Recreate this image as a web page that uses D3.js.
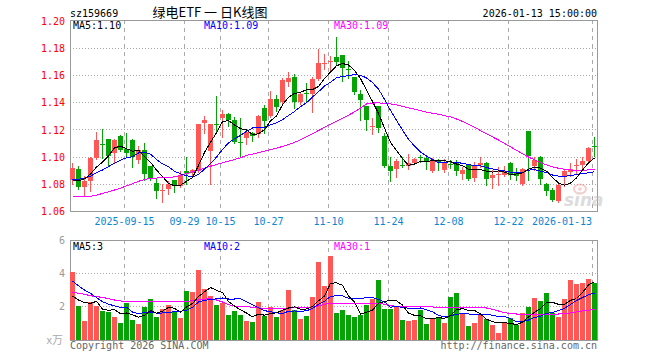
<!DOCTYPE html>
<html>
<head>
<meta charset="utf-8">
<script src="https://cdn.jsdelivr.net/npm/d3@7"></script>
<style>
  body { margin: 0; background: #fff; }
  svg text { font-family: "DejaVu Sans Mono", monospace; font-size: 10px; }
</style>
</head>
<body>
<div id="chart"></div>
<script>
// Trading days shown (2025-09-02 .. 2026-01-13)
const dates = [
  "2025-09-02","2025-09-03","2025-09-04","2025-09-05","2025-09-08","2025-09-09","2025-09-10","2025-09-11","2025-09-12","2025-09-15",
  "2025-09-16","2025-09-17","2025-09-18","2025-09-19","2025-09-22","2025-09-23","2025-09-24","2025-09-25","2025-09-26","2025-09-29",
  "2025-09-30","2025-10-09","2025-10-10","2025-10-13","2025-10-14","2025-10-15","2025-10-16","2025-10-17","2025-10-20","2025-10-21",
  "2025-10-22","2025-10-23","2025-10-24","2025-10-27","2025-10-28","2025-10-29","2025-10-30","2025-10-31","2025-11-03","2025-11-04",
  "2025-11-05","2025-11-06","2025-11-07","2025-11-10","2025-11-11","2025-11-12","2025-11-13","2025-11-14","2025-11-17","2025-11-18",
  "2025-11-19","2025-11-20","2025-11-21","2025-11-24","2025-11-25","2025-11-26","2025-11-27","2025-11-28","2025-12-01","2025-12-02",
  "2025-12-03","2025-12-04","2025-12-05","2025-12-08","2025-12-09","2025-12-10","2025-12-11","2025-12-12","2025-12-15","2025-12-16",
  "2025-12-17","2025-12-18","2025-12-19","2025-12-22","2025-12-23","2025-12-24","2025-12-25","2025-12-26","2025-12-29","2025-12-30",
  "2025-12-31","2026-01-05","2026-01-06","2026-01-07","2026-01-08","2026-01-09","2026-01-12","2026-01-13"
];

const opens = [
  1.0830,1.0913,1.0777,1.0826,1.0995,1.1097,1.1132,1.1028,1.1157,1.1060,
  1.1125,1.0975,1.1052,1.0935,1.0806,1.0756,1.0766,1.0833,1.0785,1.0895,
  1.0882,1.0901,1.1247,1.1047,1.1240,1.1288,1.1320,1.1270,1.1110,1.1137,
  1.1174,1.1169,1.1363,1.1300,1.1424,1.1405,1.1555,1.1592,1.1405,1.1468,
  1.1465,1.1575,1.1688,1.1700,1.1733,1.1750,1.1650,1.1587,1.1460,1.1375,
  1.1225,1.1373,1.1154,1.0938,1.0914,1.0945,1.0938,1.0955,1.0998,1.0996,
  1.0894,1.0970,1.0906,1.0952,1.0967,1.0877,1.0943,1.0845,1.0943,1.0960,
  1.0845,1.0874,1.0870,1.0960,1.0887,1.0802,1.1193,1.0938,1.1003,1.0804,
  1.0760,1.0675,1.0858,1.0889,1.0940,1.0943,1.0972,1.1080
];
const highs = [
  1.0955,1.0935,1.0858,1.1002,1.1185,1.1204,1.1135,1.1130,1.1165,1.1180,
  1.1130,1.1083,1.1100,1.0937,1.0838,1.0804,1.0821,1.0835,1.0901,1.1003,
  1.0915,1.1240,1.1300,1.1245,1.1446,1.1344,1.1325,1.1295,1.1288,1.1198,
  1.1186,1.1307,1.1380,1.1485,1.1453,1.1582,1.1623,1.1610,1.1470,1.1543,
  1.1587,1.1794,1.1757,1.1745,1.1879,1.1752,1.1704,1.1590,1.1494,1.1378,
  1.1288,1.1375,1.1178,1.1003,1.0984,1.1003,1.1021,1.0991,1.1015,1.0998,
  1.0996,1.0984,1.0984,1.0979,1.0979,1.0930,1.0950,1.0962,1.1003,1.0962,
  1.0906,1.0930,1.0938,1.0962,1.0918,1.0918,1.1195,1.1003,1.1005,1.0809,
  1.0773,1.0802,1.0906,1.0960,1.0984,1.1003,1.1072,1.1150
];
const lows = [
  1.0800,1.0765,1.0722,1.0753,1.0983,1.0995,1.0940,1.0962,1.1045,1.1000,
  1.0930,1.0960,1.0833,1.0828,1.0697,1.0668,1.0729,1.0741,1.0780,1.0804,
  1.0870,1.0890,1.1174,1.0800,1.1180,1.1150,1.1230,1.1100,1.1008,1.1096,
  1.1120,1.1150,1.1178,1.1295,1.1340,1.1397,1.1520,1.1363,1.1390,1.1410,
  1.1332,1.1567,1.1648,1.1640,1.1684,1.1558,1.1580,1.1465,1.1276,1.1198,
  1.1169,1.1186,1.0930,1.0821,1.0853,1.0928,1.0914,1.0950,1.0967,1.0914,
  1.0887,1.0906,1.0887,1.0918,1.0870,1.0841,1.0833,1.0821,1.0930,1.0792,
  1.0773,1.0797,1.0863,1.0838,1.0833,1.0797,1.0828,1.0906,1.0804,1.0724,
  1.0675,1.0668,1.0785,1.0858,1.0882,1.0914,1.0967,1.1008
];
const closes = [
  1.0920,1.0777,1.0826,1.0990,1.1124,1.1093,1.1010,1.1125,1.1050,1.1030,
  1.1000,1.1052,1.0877,1.0846,1.0748,1.0760,1.0802,1.0790,1.0868,1.0885,
  1.0906,1.1240,1.1270,1.1242,1.1233,1.1320,1.1276,1.1110,1.1105,1.1186,
  1.1154,1.1300,1.1266,1.1424,1.1368,1.1563,1.1580,1.1405,1.1465,1.1462,
  1.1575,1.1689,1.1692,1.1705,1.1696,1.1652,1.1645,1.1477,1.1417,1.1271,
  1.1230,1.1210,1.0935,1.0894,1.0972,1.0938,1.0955,1.0984,1.0994,1.0967,
  1.0972,1.0966,1.0967,1.0948,1.0894,1.0906,1.0838,1.0938,1.0960,1.0841,
  1.0870,1.0879,1.0901,1.0870,1.0858,1.0914,1.1008,1.0979,1.0838,1.0748,
  1.0683,1.0797,1.0899,1.0911,1.0945,1.0972,1.1064,1.1074
];

// Moving average lines
const ma5 = [
  1.0826,1.0826,1.0840,1.0875,1.0927,1.0962,1.1009,1.1068,1.1080,1.1062,
  1.1043,1.1051,1.1002,1.0961,1.0905,1.0857,1.0807,1.0789,1.0794,1.0821,
  1.0850,1.0938,1.1034,1.1109,1.1178,1.1261,1.1268,1.1236,1.1209,1.1199,
  1.1166,1.1171,1.1202,1.1266,1.1302,1.1384,1.1440,1.1468,1.1476,1.1495,
  1.1497,1.1519,1.1577,1.1625,1.1671,1.1687,1.1678,1.1635,1.1577,1.1492,
  1.1408,1.1321,1.1213,1.1108,1.1048,1.0990,1.0939,1.0949,1.0969,1.0968,
  1.0974,1.0977,1.0973,1.0964,1.0949,1.0936,1.0911,1.0905,1.0907,1.0897,
  1.0889,1.0898,1.0890,1.0872,1.0876,1.0884,1.0910,1.0926,1.0919,1.0897,
  1.0851,1.0809,1.0793,1.0808,1.0847,1.0905,1.0958,1.0993
];
const ma10 = [
  1.0833,1.0837,1.0845,1.0860,1.0885,1.0905,1.0930,1.0955,1.0978,1.0995,
  1.1003,1.1030,1.1035,1.1021,1.0983,1.0950,1.0929,1.0896,1.0877,1.0863,
  1.0853,1.0872,1.0912,1.0951,1.1000,1.1056,1.1103,1.1135,1.1159,1.1189,
  1.1214,1.1220,1.1219,1.1237,1.1251,1.1275,1.1306,1.1335,1.1371,1.1399,
  1.1441,1.1480,1.1522,1.1550,1.1583,1.1592,1.1599,1.1606,1.1601,1.1582,
  1.1547,1.1500,1.1424,1.1343,1.1270,1.1199,1.1130,1.1081,1.1038,1.1008,
  1.0982,1.0958,1.0961,1.0966,1.0959,1.0955,1.0944,1.0939,1.0936,1.0923,
  1.0913,1.0904,1.0898,1.0890,1.0886,1.0887,1.0904,1.0908,1.0896,1.0887,
  1.0868,1.0860,1.0859,1.0864,1.0872,1.0878,1.0884,1.0893
];
const ma30 = [
  1.0707,1.0707,1.0708,1.0712,1.0720,1.0733,1.0745,1.0758,1.0772,1.0788,
  1.0804,1.0822,1.0835,1.0843,1.0846,1.0848,1.0850,1.0855,1.0865,1.0878,
  1.0892,1.0903,1.0918,1.0932,1.0945,1.0958,1.0970,1.0982,1.0995,1.1012,
  1.1022,1.1033,1.1043,1.1055,1.1066,1.1078,1.1092,1.1108,1.1127,1.1150,
  1.1172,1.1195,1.1218,1.1241,1.1263,1.1285,1.1308,1.1332,1.1360,1.1390,
  1.1397,1.1398,1.1395,1.1390,1.1383,1.1372,1.1362,1.1352,1.1342,1.1330,
  1.1322,1.1315,1.1305,1.1295,1.1280,1.1262,1.1242,1.1220,1.1195,1.1171,
  1.1148,1.1125,1.1100,1.1075,1.1050,1.1025,1.1000,1.0980,1.0960,1.0942,
  1.0928,1.0918,1.0910,1.0905,1.0902,1.0902,1.0906,1.0910
];

// Volume (x万) and its moving averages
const volumes = [
  4.10,2.04,1.15,2.26,2.04,1.75,1.68,1.40,1.04,2.23,
  1.20,0.96,1.99,2.47,1.39,1.85,2.10,1.67,1.33,2.95,
  2.89,4.20,3.07,2.64,2.10,2.22,1.50,1.74,1.50,1.14,
  1.08,2.28,1.44,1.98,1.38,1.80,3.00,1.80,1.26,1.44,
  2.58,4.68,3.24,5.05,1.62,1.80,1.50,1.39,1.50,2.10,
  2.48,3.60,1.85,1.85,1.99,1.20,1.14,1.20,1.82,0.96,
  1.33,1.37,1.00,2.61,2.81,1.61,0.84,1.02,1.50,1.26,
  0.90,0.42,1.08,1.32,0.90,1.62,1.98,2.52,2.34,2.82,
  1.63,1.38,2.48,3.60,3.36,3.42,3.66,3.42
];
const volMa5 = [
  2.64,2.40,2.25,2.20,2.32,1.85,1.78,1.83,1.58,1.62,
  1.51,1.37,1.48,1.77,1.60,1.73,1.96,1.90,1.67,1.98,
  2.19,2.61,2.89,3.15,2.98,2.85,2.31,2.04,1.81,1.62,
  1.39,1.55,1.49,1.58,1.63,1.78,1.92,1.99,1.85,1.86,
  2.02,2.35,2.64,3.40,3.43,3.28,2.64,2.27,1.56,1.66,
  1.79,2.21,2.31,2.38,2.35,2.10,1.61,1.48,1.47,1.26,
  1.29,1.34,1.30,1.45,1.82,1.88,1.77,1.78,1.56,1.25,
  1.10,1.02,1.03,1.00,0.92,1.07,1.38,1.67,1.87,2.26,
  2.26,2.14,2.13,2.38,2.49,2.85,3.30,3.49
];
const volMa10 = [
  3.54,3.25,3.00,2.80,2.55,2.30,2.15,2.05,1.95,1.97,
  1.68,1.57,1.66,1.68,1.61,1.62,1.66,1.69,1.72,1.79,
  1.96,2.28,2.39,2.41,2.48,2.52,2.46,2.46,2.48,2.30,
  2.12,1.93,1.76,1.70,1.63,1.58,1.73,1.74,1.72,1.75,
  1.90,2.14,2.32,2.62,2.65,2.65,2.50,2.46,2.48,2.55,
  2.54,2.43,2.29,1.97,2.01,1.95,1.91,1.89,1.92,1.81,
  1.69,1.47,1.39,1.46,1.54,1.59,1.56,1.54,1.51,1.54,
  1.49,1.40,1.41,1.28,1.09,1.09,1.20,1.35,1.43,1.59,
  1.66,1.76,1.90,2.13,2.37,2.55,2.72,2.81
];
const volMa30 = [
  2.86,2.80,2.74,2.66,2.60,2.56,2.48,2.40,2.34,2.32,
  2.31,2.30,2.30,2.30,2.30,2.30,2.30,2.30,2.31,2.32,
  2.35,2.40,2.45,2.48,2.40,2.28,2.12,2.04,2.02,2.00,
  1.96,1.92,1.90,1.90,1.90,1.90,1.91,1.93,1.94,1.95,
  1.98,2.05,2.14,2.20,2.20,2.20,2.20,2.20,2.20,2.20,
  2.20,2.20,2.14,2.06,2.02,2.01,2.00,2.00,2.00,2.00,
  1.98,1.97,1.96,1.96,1.96,1.96,1.96,1.96,1.95,1.92,
  1.84,1.74,1.64,1.58,1.56,1.56,1.56,1.56,1.56,1.56,
  1.56,1.56,1.57,1.62,1.68,1.74,1.79,1.84
];

const priceTicks = [1.06, 1.08, 1.10, 1.12, 1.14, 1.16, 1.18, 1.20];
const volTicks = [2, 4, 6];
const tickDates = ["2025-09-15","2025-09-29","2025-10-15","2025-10-27","2025-11-10","2025-11-24","2025-12-08","2025-12-22","2026-01-13"];
const tickLabels = ["2025-09-15","09-29","10-15","10-27","11-10","11-24","12-08","12-22","2026-01-13"];

const legendPrice = [["MA5:1.10", "#000"], ["MA10:1.09", "#0000ff"], ["MA30:1.09", "#ff00ff"]];
const legendVol = [["MA5:3", "#000"], ["MA10:2", "#0000ff"], ["MA30:1", "#ff00ff"]];

// Layout
const width = 660, height = 360;
const left = 70, right = 597;
const priceTop = 20, priceBottom = 212;
const volTop = 240, volBottom = 340;
const RED = "#ff5656", GREEN = "#06a306", GRID = "#aaa", FRAME = "#999";

const svg = d3.select("#chart").append("svg")
    .attr("width", width)
    .attr("height", height);

const x = d3.scaleBand().domain(dates).range([left, right]).paddingInner(1 / 6).paddingOuter(0).align(0);
const y = d3.scaleLinear().domain([1.06, 1.20]).range([211.5, 21]);
const yv = d3.scaleLinear().domain([0, 6]).range([volBottom, volTop]);
const cx = d => x(d) + 2.5;

const rows = dates.map((d, i) => ({ date: d, o: opens[i], h: highs[i], l: lows[i], c: closes[i], v: volumes[i] }));

// Header texts
svg.append("text").attr("x", left).attr("y", 16.5).text("sz159669");
svg.append("text")
    .attr("x", 210).attr("y", 16.5)
    .attr("text-anchor", "middle")
    .style("font-family", "'Noto Sans CJK SC', sans-serif")
    .style("font-size", "13px")
    .style("white-space", "pre")
    .text("绿电ETF 一 日K线图");
svg.append("text").attr("x", right).attr("y", 16.5).attr("text-anchor", "end").text("2026-01-13 15:00:00");

// Horizontal dotted grid
svg.append("g").selectAll("line")
  .data(priceTicks.slice(1, -1))
  .join("line")
    .attr("x1", left).attr("x2", right)
    .attr("y1", d => Math.floor(y(d)) + 0.5).attr("y2", d => Math.floor(y(d)) + 0.5)
    .attr("stroke", GRID).attr("stroke-dasharray", "1,2");
svg.append("g").selectAll("line")
  .data([2, 4])
  .join("line")
    .attr("x1", left).attr("x2", right)
    .attr("y1", d => Math.floor(yv(d)) + 0.5).attr("y2", d => Math.floor(yv(d)) + 0.5)
    .attr("stroke", GRID).attr("stroke-dasharray", "1,2");

// Vertical dashed grid at the date ticks (both panels)
[[priceTop, priceBottom], [volTop, volBottom]].forEach(([y0, y1]) => {
  svg.append("g").selectAll("line")
    .data(tickDates)
    .join("line")
      .attr("x1", d => x(d) + 0.5).attr("x2", d => x(d) + 0.5)
      .attr("y1", y0).attr("y2", y1)
      .attr("stroke", GRID).attr("stroke-dasharray", "4,4");
});

// Frames
svg.append("rect").attr("x", left + 0.5).attr("y", priceTop + 0.5)
    .attr("width", right - left).attr("height", priceBottom - priceTop - 1)
    .attr("fill", "none").attr("stroke", FRAME);
svg.append("rect").attr("x", left + 0.5).attr("y", volTop + 0.5)
    .attr("width", right - left).attr("height", volBottom - volTop)
    .attr("fill", "none").attr("stroke", FRAME);

// Price axis (left, red labels)
const yAxis = svg.append("g")
    .attr("transform", `translate(${left},0)`)
    .call(d3.axisLeft(y).tickValues(priceTicks).tickSize(0).tickPadding(5).tickFormat(d3.format(".2f")));
yAxis.select(".domain").remove();
yAxis.selectAll("text").attr("fill", "#f00")
    .style("font-family", "'DejaVu Sans Mono', monospace").style("font-size", "10px");

// Volume axis
const vAxis = svg.append("g")
    .attr("transform", `translate(${left},0)`)
    .call(d3.axisLeft(yv).tickValues(volTicks).tickSize(0).tickPadding(5).tickFormat(d3.format("d")));
vAxis.select(".domain").remove();
vAxis.selectAll("text").attr("fill", "#999")
    .style("font-family", "'DejaVu Sans Mono', monospace").style("font-size", "10px");

svg.append("text").attr("x", 63).attr("y", 344).attr("text-anchor", "end")
    .attr("fill", "#aaa")
    .style("font-family", "'Noto Sans CJK SC', sans-serif").style("font-size", "11px")
    .text("x万");

// Date labels
svg.append("g").selectAll("text")
  .data(tickDates)
  .join("text")
    .attr("x", (d, i) => {
      const half = tickLabels[i].length * 3;
      return Math.min(x(d) + 0.5, right - 5 - half);
    })
    .attr("y", 225)
    .attr("text-anchor", "middle")
    .attr("fill", "#0b86d4")
    .text((d, i) => tickLabels[i]);

// Sina watermark
const wm = svg.append("g").attr("opacity", 0.5);
wm.append("ellipse").attr("cx", 580).attr("cy", 189).attr("rx", 6).attr("ry", 4.5)
    .attr("fill", "none").attr("stroke", "#f19a9a").attr("stroke-width", 2);
wm.append("circle").attr("cx", 580).attr("cy", 189).attr("r", 1.8).attr("fill", "#f19a9a");
wm.append("text").attr("x", 564).attr("y", 206)
    .style("font-family", "'DejaVu Sans', sans-serif")
    .style("font-size", "17px").style("font-style", "italic").style("font-weight", "bold")
    .attr("fill", "#bbb").text("sina");

// Candles
const candles = svg.append("g").attr("shape-rendering", "crispEdges");
candles.selectAll("line")
  .data(rows)
  .join("line")
    .attr("x1", d => cx(d.date)).attr("x2", d => cx(d.date))
    .attr("y1", d => Math.round(y(d.h))).attr("y2", d => Math.round(y(d.l)) + 1)
    .attr("stroke", d => d.c >= d.o ? RED : GREEN);
candles.selectAll("rect")
  .data(rows)
  .join("rect")
    .attr("x", d => x(d.date))
    .attr("width", x.bandwidth())
    .attr("y", d => Math.round(y(Math.max(d.o, d.c))))
    .attr("height", d => Math.max(1, Math.round(y(Math.min(d.o, d.c))) - Math.round(y(Math.max(d.o, d.c)))))
    .attr("fill", d => d.c >= d.o ? RED : GREEN);

// Volume bars
svg.append("g").attr("shape-rendering", "crispEdges")
  .selectAll("rect")
  .data(rows)
  .join("rect")
    .attr("x", d => x(d.date))
    .attr("width", x.bandwidth())
    .attr("y", d => Math.round(yv(d.v)))
    .attr("height", d => volBottom - Math.round(yv(d.v)))
    .attr("fill", d => d.c >= d.o ? RED : GREEN);

// MA lines
function drawLine(values, scale, color) {
  const line = d3.line()
      .x((d, i) => cx(dates[i]))
      .y(d => scale(d));
  svg.append("path")
      .datum(values)
      .attr("d", line)
      .attr("fill", "none")
      .attr("stroke", color)
      .attr("stroke-width", 1)
      .attr("shape-rendering", "crispEdges");
}
drawLine(ma30, y, "#ff00ff");
drawLine(ma10, y, "#0000ff");
drawLine(ma5, y, "#000");
drawLine(volMa30, yv, "#ff00ff");
drawLine(volMa10, yv, "#0000ff");
drawLine(volMa5, yv, "#000");

// Legends
const legendX = [73, 204, 334];
legendPrice.forEach(([t, c], i) => {
  svg.append("text").attr("x", legendX[i]).attr("y", 29).attr("fill", c).text(t);
});
legendVol.forEach(([t, c], i) => {
  svg.append("text").attr("x", legendX[i]).attr("y", 249.5).attr("fill", c).text(t);
});

// Footer
svg.append("text").attr("x", left).attr("y", 349).attr("fill", "#666").text("Copyright 2026 SINA.COM");
svg.append("text").attr("x", right).attr("y", 349).attr("text-anchor", "end").attr("fill", "#666").text("http://finance.sina.com.cn");
</script>
</body>
</html>
